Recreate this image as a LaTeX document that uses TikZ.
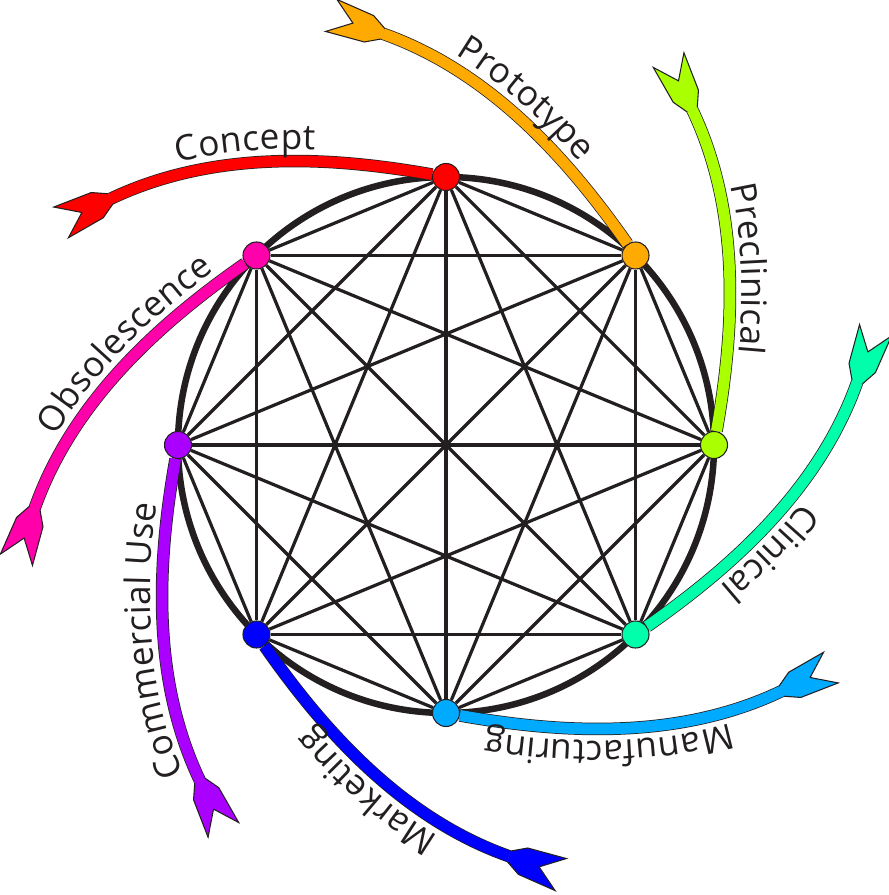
\documentclass[tikz,border=0pt]{standalone}
\usepackage{fontspec}
\setsansfont{Open Sans}
\usepackage{xcolor}
\definecolor{ink-900}{RGB}{35,31,32}
\definecolor{red-500}{RGB}{255,0,0}
\definecolor{amber-500}{RGB}{255,170,0}
\definecolor{lime-500}{RGB}{170,255,0}
\definecolor{spring-500}{RGB}{0,255,170}
\definecolor{sky-500}{RGB}{0,170,255}
\definecolor{blue-500}{RGB}{0,0,255}
\definecolor{violet-500}{RGB}{170,0,255}
\definecolor{pink-500}{RGB}{255,0,170}
\usepackage{tikz}
\usetikzlibrary{decorations.markings,decorations.text}

\newcommand\phasefont{\sffamily\fontsize{10}{12}\selectfont}

\begin{document}
\begin{tikzpicture}[
    x=0.01cm, y=0.01cm,
    ring/.style={draw=ink-900, line width=0.065cm},
    chord/.style={draw=ink-900, line width=0.032cm},
    phase dot/.style={
        circle,
        draw=ink-900,
        line width=0.3pt,
        fill=#1,
        minimum size=0.27cm,
        inner sep=0pt
    },
    phase arrow/.style={
        draw=#1,
        line width=0.11cm,
        preaction={draw=ink-900, line width=0.125cm},
        preaction={decorate, decoration={markings, mark=at position 0 with {
            \fill[#1] (0,5.5) -- (-15,14) -- (-55,17) -- (-32,0) -- (-55,-17) -- (-15,-14) -- (0,-5.5) -- cycle;
            \draw[ink-900, line width=0.3pt] (0,5.5) -- (-15,14) -- (-55,17) -- (-32,0) -- (-55,-17) -- (-15,-14) -- (0,-5.5);
        }}}
    },
    phase label/.style 2 args={
        postaction={decorate, decoration={text along path,
            text={|\phasefont|#1}, raise=0.12cm,
            text align={left indent=#2}, text color=ink-900}}
    }
]
\useasboundingbox (-446,-450) rectangle (443,445);

% === RING ===
\coordinate (hub) at (0,0);
\draw[ring] (hub) circle (268);

% === PHASE DOTS ===
\node[phase dot=red-500] (concept) at (90:268) {};
\node[phase dot=amber-500] (prototype) at (45:268) {};
\node[phase dot=lime-500] (preclinical) at (0:268) {};
\node[phase dot=spring-500] (clinical) at (-45:268) {};
\node[phase dot=sky-500] (manufacturing) at (-90:268) {};
\node[phase dot=blue-500] (marketing) at (-135:268) {};
\node[phase dot=violet-500] (commercial) at (180:268) {};
\node[phase dot=pink-500] (obsolescence) at (135:268) {};

% === CHORDS (every dot to every dot) ===
\foreach \a [count=\i] in {concept,prototype,preclinical,clinical,manufacturing,marketing,commercial,obsolescence}
  \foreach \b [count=\j] in {concept,prototype,preclinical,clinical,manufacturing,marketing,commercial,obsolescence}
    {\ifnum\j>\i \draw[chord] (\a) -- (\b); \fi}

% === PHASE ARROWS ===
\coordinate (concept end) at (143.7:416);
\coordinate (prototype end) at (98.7:416);
\coordinate (preclinical end) at (53.7:416);
\coordinate (clinical end) at (8.7:416);
\coordinate (manufacturing end) at (-36.3:416);
\coordinate (marketing end) at (-81.3:416);
\coordinate (commercial end) at (233.7:416);
\coordinate (obsolescence end) at (188.7:416);

\draw[phase arrow=red-500, phase label={Concept}{0.74cm}]
    (concept end) .. controls (128:375.5) and (111.4:309.4) .. (concept);
\draw[phase arrow=amber-500, phase label={Prototype}{0.73cm}]
    (prototype end) .. controls (83:375.5) and (66.4:309.4) .. (prototype);
\draw[phase arrow=lime-500, phase label={Preclinical}{0.83cm}]
    (preclinical end) .. controls (38:375.5) and (21.4:309.4) .. (preclinical);
\draw[phase arrow=spring-500, phase label={Clinical}{1.3cm}]
    (clinical end) .. controls (-7:375.5) and (-23.6:309.4) .. (clinical);
\draw[phase arrow=sky-500, phase label={Manufacturing}{0.58cm}]
    (manufacturing end) .. controls (-52:375.5) and (-68.6:309.4) .. (manufacturing);
\draw[phase arrow=blue-500, phase label={Marketing}{0.7cm}]
    (marketing end) .. controls (-97:375.5) and (-113.6:309.4) .. (marketing);
\draw[phase arrow=violet-500, phase label={Commercial Use}{0.12cm}]
    (commercial end) .. controls (218:375.5) and (201.4:309.4) .. (commercial);
\draw[phase arrow=pink-500, phase label={Obsolescence}{0.72cm}]
    (obsolescence end) .. controls (173:375.5) and (156.4:309.4) .. (obsolescence);

\end{tikzpicture}
\end{document}
